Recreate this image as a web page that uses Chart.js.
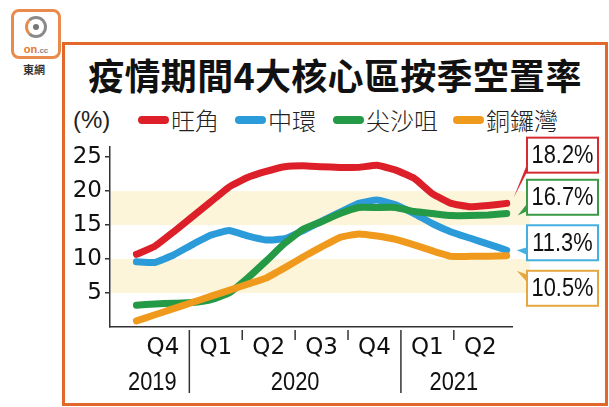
<!DOCTYPE html>
<html>
<head>
<meta charset="utf-8">
<script src="https://cdn.jsdelivr.net/npm/chart.js@4"></script>
<style>
body { margin: 0; background: #fff; }
#wrap { position: relative; width: 609px; height: 407px; overflow: hidden; font-family: "Noto Sans CJK TC", sans-serif; color: #111; }
#logo { position: absolute; left: 11px; top: 9px; width: 44px; height: 44px; border: 3px solid #e98b4d; border-radius: 8px; }
#ring { position: absolute; left: 11px; top: 4px; width: 16px; height: 16px; border: 3px solid #8a8a8a; border-left-color: #e98b4d; border-radius: 50%; }
#dot { position: absolute; left: 5px; top: 5px; width: 6px; height: 6px; background: #777; border-radius: 50%; }
#oncc { position: absolute; left: 0; right: 0; bottom: 1px; text-align: center; font: bold 11px "Liberation Sans", sans-serif; color: #e8772e; }
#oncc span { font-size: 8px; color: #888; }
#brand { position: absolute; left: 23px; top: 61px; font-size: 11px; font-weight: 700; color: #333; }
#frame { position: absolute; left: 62px; top: 42px; width: 540px; height: 358px; border: 3px solid #e2672a; }
#title { position: absolute; left: 62px; width: 546px; top: 52px; text-align: center; font-size: 36px; font-weight: 700; line-height: 44px; letter-spacing: 0.3px; }
.lg { position: absolute; top: 104px; font-size: 24px; line-height: 32px; color: #222; white-space: nowrap; font-weight: 300; }
.mk { position: absolute; top: 116px; width: 31px; height: 8px; border-radius: 4px; }
canvas { position: absolute; left: 0; top: 0; }
</style>
</head>
<body>
<div id="wrap">
  <div id="logo"><div id="ring"><div id="dot"></div></div><div id="oncc">on<span>.cc</span></div></div>
  <div id="brand">東網</div>
  <div id="frame"></div>
  <div id="title">疫情期間4大核心區按季空置率</div>
  <div class="lg" style="left:73px;font-family:'Liberation Sans',sans-serif;font-weight:400">(%)</div>
  <div id="legend"></div>
  <canvas id="lineChart" width="609" height="407"></canvas>
</div>
<script>
// monthly readings, Oct 2019 .. Jun 2021
const months = ['2019-10','2019-11','2019-12','2020-01','2020-02','2020-03','2020-04','2020-05','2020-06',
    '2020-07','2020-08','2020-09','2020-10','2020-11','2020-12','2021-01','2021-02','2021-03','2021-04','2021-05','2021-06']

const seriesNames = ['旺角', '中環', '尖沙咀', '銅鑼灣']
const mongkok = [10.7, 11.9, 14.0, 16.2, 18.4, 20.6, 22.0, 22.9, 23.6, 23.75, 23.6, 23.5, 23.5, 23.8, 23.1, 21.9, 19.6, 18.2, 17.7, 17.9, 18.2]
const central = [9.6, 9.5, 10.6, 12.1, 13.5, 14.2, 13.4, 12.8, 13.0, 14.2, 15.6, 16.9, 18.2, 18.7, 18.0, 16.7, 15.2, 14.0, 13.1, 12.2, 11.3]
const tst = [3.2, 3.4, 3.5, 3.6, 4.0, 5.0, 7.2, 9.7, 12.3, 14.4, 15.5, 16.7, 17.6, 17.6, 17.6, 17.0, 16.7, 16.4, 16.4, 16.5, 16.7]
const cwb = [0.9, 1.8, 2.7, 3.6, 4.5, 5.4, 6.3, 7.2, 8.7, 10.3, 11.8, 13.2, 13.7, 13.4, 12.9, 12.1, 11.2, 10.4, 10.4, 10.4, 10.5]
const valueLabels = ['18.2%', '11.3%', '16.7%', '10.5%']

const quarterLabels = ['Q4', 'Q1', 'Q2', 'Q3', 'Q4', 'Q1', 'Q2']
const yearLabels = ['2019', '2020', '2021']
const yearStart = [-0.4, 1, 5]
const yearEnd = [1, 5, 7]
const yTicks = [5, 10, 15, 20, 25]
const bands = [[5, 10], [15, 20]]

// styles
const colors = ['#dc1f28', '#2b9bd9', '#249a46', '#f09a1d']
const boxColors = ['#d42a30', '#45b0e0', '#3b9a45', '#e5a840']
const drawOrder = [0, 3, 2, 1]
const boxAt = [25.3, 12.4, 19.1, 5.7]
const tipOffset = [[7, -6], [10, 0], [11, 2], [10, 15]]
const narrowFont = '26px "Liberation Sans", sans-serif'

const legend = document.getElementById('legend')
const mkLeft = [138, 235, 333, 453]
seriesNames.forEach(function(n, i) {
    legend.innerHTML += '<div class="mk" style="left:' + mkLeft[i] + 'px;background:' + colors[i] + '"></div>' +
        '<div class="lg" style="left:' + (mkLeft[i] + 33) + 'px">' + n + '</div>'
})

// months spread over the 7 quarters on the axis (one quarter = 1 unit)
function toPoints(values) {
    return values.map(function(v, i) { return { x: i * 7 / (months.length - 1), y: v } })
}

// squeezed text, the picture uses a condensed face
function narrowText(ctx, t, x, y) {
    ctx.save()
    ctx.translate(x, y)
    ctx.scale(0.84, 1)
    ctx.fillText(t, 0, 0)
    ctx.restore()
}

const decor = {
    id: 'decor',
    beforeDatasetsDraw(chart) {
        const ctx = chart.ctx, a = chart.chartArea, ys = chart.scales.y
        ctx.save()
        ctx.fillStyle = '#fcf5d9'
        bands.forEach(function(b) {
            const y1 = ys.getPixelForValue(b[1]), y0 = ys.getPixelForValue(b[0])
            ctx.fillRect(a.left + 1, y1, a.right - a.left + 17, y0 - y1)
        })
        ctx.restore()
    },
    afterDatasetsDraw(chart) {
        const ctx = chart.ctx, a = chart.chartArea, xs = chart.scales.x, ys = chart.scales.y
        const b = a.bottom
        ctx.save()
        ctx.strokeStyle = '#333'
        ctx.lineWidth = 1.5
        for (let q = 1; q < quarterLabels.length; q++) {
            const px = xs.getPixelForValue(q)
            const long = yearStart.includes(q)
            ctx.beginPath()
            ctx.moveTo(px, b + 3)
            ctx.lineTo(px, long ? b + 66 : b + 13)
            ctx.stroke()
        }
        ctx.fillStyle = '#111'
        ctx.textAlign = 'center'
        ctx.textBaseline = 'middle'
        ctx.font = '23px "DejaVu Sans"'
        quarterLabels.forEach(function(t, i) {
            ctx.fillText(t, xs.getPixelForValue(i + 0.5), b + 21)
        })
        ctx.font = narrowFont
        yearLabels.forEach(function(t, i) {
            narrowText(ctx, t, xs.getPixelForValue((yearStart[i] + yearEnd[i]) / 2), b + 56)
        })

        // value boxes at line ends
        const boxL = a.right + 15, boxW = 71, boxH = 35
        chart.data.datasets.forEach(function(ds, i) {
            const last = ds.data[ds.data.length - 1]
            const ex = xs.getPixelForValue(last.x), ey = ys.getPixelForValue(last.y)
            const cy = ys.getPixelForValue(boxAt[i])
            const down = cy < ey + tipOffset[i][1]
            ctx.fillStyle = boxColors[i]
            ctx.beginPath()
            ctx.moveTo(ex + tipOffset[i][0], ey + tipOffset[i][1])
            if (down) {
                ctx.lineTo(boxL + 2, cy + 4)
                ctx.lineTo(boxL + 2, cy + 13)
            } else {
                ctx.lineTo(boxL + 2, cy - 13)
                ctx.lineTo(boxL + 2, cy - 4)
            }
            ctx.closePath()
            ctx.fill()
            ctx.fillStyle = '#fff'
            ctx.fillRect(boxL, cy - boxH / 2, boxW, boxH)
            ctx.strokeStyle = boxColors[i]
            ctx.lineWidth = 2
            ctx.strokeRect(boxL, cy - boxH / 2, boxW, boxH)
            ctx.fillStyle = '#111'
            narrowText(ctx, valueLabels[i], boxL + boxW / 2, cy + 1)
        })
        ctx.restore()
    }
}

const seriesValues = [mongkok, central, tst, cwb]
new Chart(document.getElementById('lineChart').getContext('2d'), {
    type: 'line',
    data: {
        datasets: seriesValues.map(function(vals, i) {
            return {
                label: seriesNames[i],
                data: toPoints(vals),
                borderColor: colors[i],
                borderWidth: 7,
                borderCapStyle: 'round',
                borderJoinStyle: 'round',
                pointRadius: 0,
                tension: 0.12,
                order: drawOrder[i]
            }
        })
    },
    options: {
        responsive: false,
        animation: false,
        layout: { padding: { left: 60, top: 147, right: 97, bottom: 80 } },
        plugins: { legend: { display: false }, tooltip: { enabled: false } },
        scales: {
            x: {
                type: 'linear', min: -0.5, max: 7.1,
                ticks: { display: false },
                grid: { display: false },
                border: { display: true, color: '#333', width: 1.5 },
                afterFit: function(s) { s.height = 0 }
            },
            y: {
                min: 0, max: 26.5,
                afterBuildTicks: function(s) { s.ticks = yTicks.map(function(v) { return { value: v } }) },
                afterFit: function(s) { s.width = 50 },
                ticks: { color: '#111', padding: 3, font: { family: 'DejaVu Sans', size: 23 } },
                grid: { drawOnChartArea: false, tickLength: 5, color: '#333', lineWidth: 1.5 },
                border: { display: true, color: '#333', width: 1.5 }
            }
        }
    },
    plugins: [decor]
})
</script>
</body>
</html>
